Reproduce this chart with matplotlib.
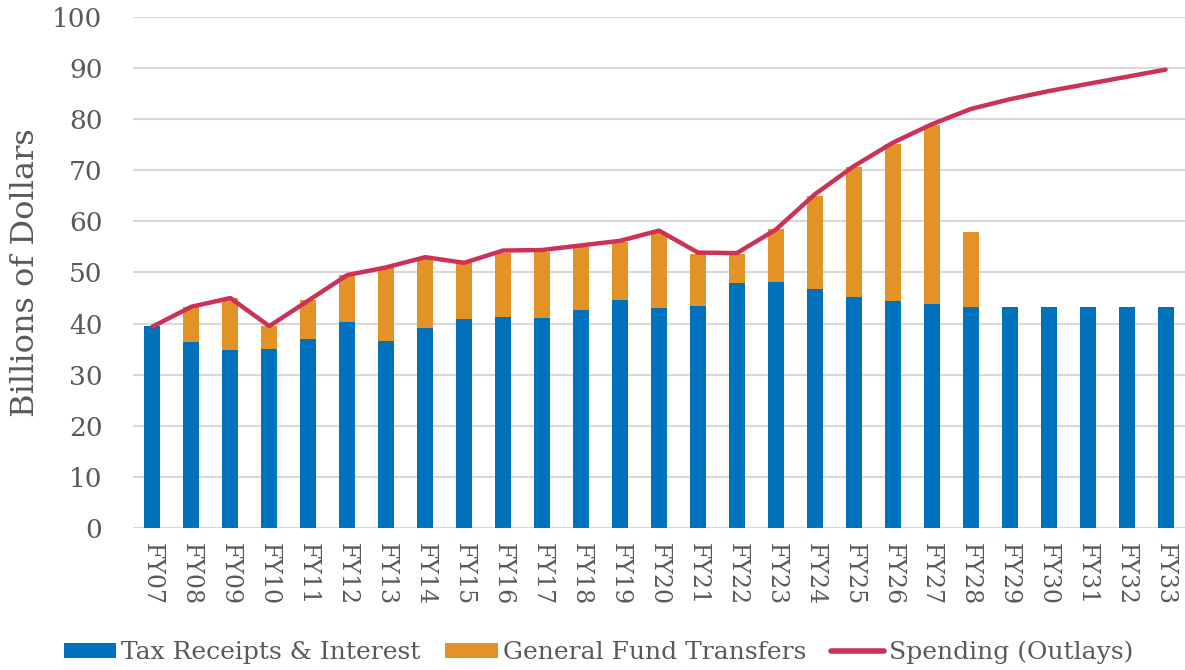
import matplotlib
matplotlib.use("Agg")
import matplotlib.pyplot as plt
import numpy as np

# -----------------------
# Data (billions of dollars)
# -----------------------
years = ["FY07", "FY08", "FY09", "FY10", "FY11", "FY12", "FY13", "FY14", "FY15",
         "FY16", "FY17", "FY18", "FY19", "FY20", "FY21", "FY22", "FY23", "FY24",
         "FY25", "FY26", "FY27", "FY28", "FY29", "FY30", "FY31", "FY32", "FY33"]
tax_receipts = [39.5, 36.4, 34.9, 35.0, 36.9, 40.3, 36.5, 39.2, 40.8,
                41.3, 41.1, 42.7, 44.6, 43.0, 43.5, 48.0, 48.1, 46.7,
                45.3, 44.5, 43.8, 43.3, 43.3, 43.3, 43.3, 43.3, 43.3]
fund_transfers = [0.0, 6.8, 10.1, 4.5, 7.7, 9.2, 14.4, 13.4, 11.0,
                  12.6, 13.0, 12.2, 11.3, 14.8, 10.1, 5.6, 10.4, 18.2,
                  25.3, 30.6, 35.1, 14.6, 0.0, 0.0, 0.0, 0.0, 0.0]
spending = [39.4, 43.3, 45.0, 39.5, 44.5, 49.5, 51.0, 53.0, 51.9,
            54.3, 54.4, 55.3, 56.2, 58.2, 53.9, 53.8, 58.4, 65.3,
            70.8, 75.4, 79.0, 82.0, 83.9, 85.5, 86.9, 88.3, 89.7]

# -----------------------
# Styling
# -----------------------
BLUE = "#0072BC"
ORANGE = "#E39325"
RED = "#CC3157"
TEXT = "#595959"
GRID = "#D9D9D9"

plt.rcParams["font.family"] = ["DejaVu Serif"]

fig = plt.figure(figsize=(11.85, 6.7), dpi=100)
ax = fig.add_axes([0.1122, 0.212, 0.8878, 0.7626])

x = np.arange(len(years))
w = 0.41
b1 = ax.bar(x, tax_receipts, w, color=BLUE, label="Tax Receipts & Interest", zorder=2)
b2 = ax.bar(x, fund_transfers, w, bottom=tax_receipts, color=ORANGE,
            label="General Fund Transfers", zorder=2)
ln, = ax.plot(x, spending, color=RED, linewidth=3.2, solid_capstyle="round",
              solid_joinstyle="round", label="Spending (Outlays)", zorder=3)

ax.set_xlim(-0.5, len(years) - 0.5)
ax.set_ylim(0, 100)
ax.set_yticks(np.arange(0, 101, 10))
ax.set_xticks(x)
ax.set_xticklabels(years, rotation=-90, fontsize=17, color=TEXT)
ax.tick_params(axis="y", labelsize=19, colors=TEXT, length=0, pad=22)
ax.tick_params(axis="x", length=0, pad=11)
ax.grid(axis="y", color=GRID, linewidth=1.5, zorder=0)
for s in ax.spines.values():
    s.set_visible(False)
ax.set_ylabel("Billions of Dollars", fontsize=23, color=TEXT, labelpad=8)

leg = fig.legend([b1, b2, ln], [b1.get_label(), b2.get_label(), ln.get_label()],
                 loc="lower center", bbox_to_anchor=(0.505, -0.025), ncol=3,
                 frameon=False, fontsize=18, handlelength=2.1, handleheight=0.6,
                 handletextpad=0.2, columnspacing=1.0)
for t in leg.get_texts():
    t.set_color(TEXT)
leg.get_lines()[0].set_linewidth(4)

fig.savefig("out.png", dpi=100)
